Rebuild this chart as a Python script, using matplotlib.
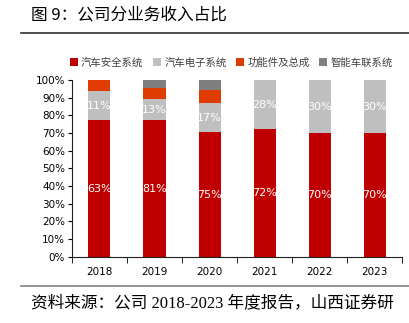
import matplotlib.pyplot as plt
import numpy as np

plt.rcParams['font.family'] = ['Noto Sans CJK SC', 'DejaVu Sans']

years = ['2018', '2019', '2020', '2021', '2022', '2023']
series = ['汽车安全系统', '汽车电子系统', '功能件及总成', '智能车联系统']
# bar heights (%)
safety = [77.2, 77.2, 70.4, 72.1, 69.8, 69.8]
electronic = [16.6, 12.0, 16.4, 27.9, 30.2, 30.2]
parts = [6.2, 6.6, 7.7, 0, 0, 0]
telematics = [0, 4.2, 5.5, 0, 0, 0]
# labels as printed on the chart
safety_lbl = ['63%', '81%', '75%', '72%', '70%', '70%']
electronic_lbl = ['11%', '13%', '17%', '28%', '30%', '30%']

colors = ['#C00000', '#BFBFBF', '#E03C00', '#7F7F7F']

fig = plt.figure(figsize=(4.09, 3.23), dpi=100)
ax = fig.add_axes([0.176, 0.205, 0.807, 0.547])

x = np.arange(len(years))
w = 0.4
bottom = np.zeros(len(years))
for vals, c, name in zip([safety, electronic, parts, telematics], colors, series):
    ax.bar(x, vals, w, bottom=bottom, color=c, label=name)
    bottom += np.array(vals)

for i in range(len(years)):
    ax.text(x[i], safety[i] / 2, safety_lbl[i], ha='center', va='center',
            color='white', fontsize=8, family='DejaVu Sans')
    ax.text(x[i], safety[i] + electronic[i] / 2, electronic_lbl[i], ha='center',
            va='center', color='white', fontsize=8, family='DejaVu Sans')

ax.set_xlim(-0.5, 5.5)
ax.set_ylim(0, 100)
ax.set_yticks(range(0, 101, 10))
ax.set_yticklabels([f'{v}%' for v in range(0, 101, 10)], fontsize=7.5, family='DejaVu Sans')
ax.set_xticks(x)
ax.set_xticklabels(years, fontsize=7.5, family='DejaVu Sans')
ax.tick_params(axis='x', length=0, pad=7)
ax.set_xticks(np.arange(-0.5, 6, 1), minor=True)
ax.tick_params(axis='x', which='minor', length=4, direction='out')
ax.tick_params(axis='y', length=3, direction='out', pad=2)
for s in ['top', 'right']:
    ax.spines[s].set_visible(False)
ax.spines['left'].set_color('#202020')
ax.spines['bottom'].set_color('#202020')

leg = fig.legend(loc='center', bbox_to_anchor=(0.565, 0.805), ncol=4, frameon=False,
                 fontsize=7.5, handlelength=0.8, handleheight=0.8, handletextpad=0.3,
                 columnspacing=0.9)
for t in leg.get_texts():
    t.set_color('#404040')

fig.text(0.076, 0.954, '图 9：公司分业务收入占比', fontsize=12, va='center', ha='left')
fig.add_artist(plt.Line2D([0.051, 1.0], [0.898, 0.898], color='#303030', lw=1.2))
fig.add_artist(plt.Line2D([0.051, 1.0], [0.115, 0.115], color='#808080', lw=1.2))
fig.text(0.076, 0.062, '资料来源：公司 2018-2023 年度报告，山西证券研', fontsize=12,
         va='center', ha='left', family=['Liberation Serif', 'Noto Sans CJK SC'])

fig.savefig('out.png', dpi=100)
